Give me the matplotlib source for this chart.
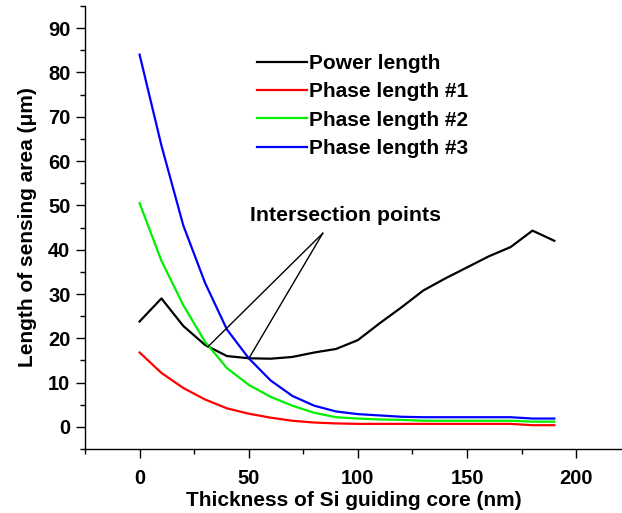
import matplotlib.pyplot as plt
from matplotlib.ticker import MultipleLocator

# data (thickness in nm, lengths in um)
thickness = [0, 10, 20, 30, 40, 50, 60, 70, 80, 90,
             100, 110, 120, 130, 140, 150, 160, 170, 180, 190]
power_len = [23.8, 29.0, 22.8, 18.5, 16.0, 15.5, 15.4, 15.8, 16.8, 17.6,
             19.6, 23.4, 27.0, 30.8, 33.5, 36.0, 38.5, 40.6, 44.3, 42.0]
phase1 = [16.8, 12.2, 8.8, 6.2, 4.2, 3.0, 2.1, 1.4, 1.0, 0.8,
          0.7, 0.7, 0.7, 0.7, 0.7, 0.7, 0.7, 0.7, 0.4, 0.4]
phase2 = [50.5, 37.5, 27.5, 19.2, 13.3, 9.5, 6.8, 4.8, 3.2, 2.2,
          1.9, 1.7, 1.6, 1.4, 1.4, 1.4, 1.4, 1.4, 1.2, 1.2]
phase3 = [84.0, 63.5, 45.5, 32.5, 22.0, 15.5, 10.5, 7.0, 4.8, 3.5,
          2.9, 2.6, 2.3, 2.2, 2.2, 2.2, 2.2, 2.2, 1.9, 1.9]

labels = ["Power length", "Phase length #1", "Phase length #2", "Phase length #3"]
colors = ["black", "#ff0000", "#00f000", "#0000ff"]

# intersection points and where the pointer lines meet
cross_pts = [(31.3, 18.1), (50.1, 15.5)]
note_xy = (83.9, 43.7)

plt.rcParams['font.family'] = ['Liberation Sans', 'DejaVu Sans']
plt.rcParams['font.weight'] = 'bold'

fig = plt.figure(figsize=(6.22, 5.13), dpi=100)
ax = fig.add_axes([0.1367, 0.1245, 0.8633, 0.864])

for ys, lab, c in zip([power_len, phase1, phase2, phase3], labels, colors):
    ax.plot(thickness, ys, color=c, lw=1.6, label=lab)

for px, py in cross_pts:
    ax.plot([note_xy[0], px], [note_xy[1], py], color="black", lw=1.0)
ax.text(94.5, 47.8, "Intersection points", fontsize=15.3, fontweight="bold",
        ha="center", va="center")

ax.set_xlim(-25, 221)
ax.set_ylim(-5, 95)
ax.xaxis.set_major_locator(MultipleLocator(50))
ax.xaxis.set_minor_locator(MultipleLocator(25))
ax.yaxis.set_major_locator(MultipleLocator(10))
ax.yaxis.set_minor_locator(MultipleLocator(5))
ax.spines['top'].set_visible(False)
ax.spines['right'].set_visible(False)
for s in ['left', 'bottom']:
    ax.spines[s].set_linewidth(1.0)
ax.tick_params(which='major', direction='out', length=6.5, width=1.0,
               labelsize=14.5)
ax.tick_params(which='minor', direction='out', length=3.6, width=1.0)
ax.tick_params(axis='x', which='major', pad=8)
ax.tick_params(axis='y', which='major', pad=4)

ax.set_xlabel("Thickness of Si guiding core (nm)", fontsize=15,
              fontweight="bold", labelpad=2)
ax.set_ylabel("Length of sensing area (μm)", fontsize=15,
              fontweight="bold", labelpad=8)

leg = ax.legend(loc="upper left", bbox_to_anchor=(257 / 622, 1 - 54 / 513),
                bbox_transform=fig.transFigure, frameon=False, fontsize=15,
                handlelength=2.4, handletextpad=0.1, labelspacing=0.45,
                borderaxespad=0, borderpad=0)

fig.savefig("out.png", dpi=100)
